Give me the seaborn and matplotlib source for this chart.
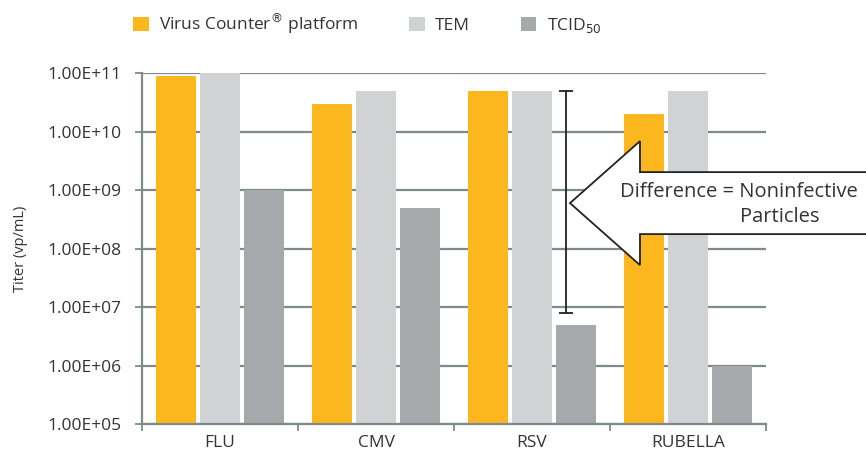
import seaborn as sns
import matplotlib.pyplot as plt
import matplotlib.ticker as mticker
from matplotlib.patches import Polygon
import pandas as pd

viruses = ['FLU', 'CMV', 'RSV', 'RUBELLA']
methods = ['Virus Counter$^{®}$ platform', 'TEM', 'TCID$_{50}$']
virus_counter = [9e10, 3e10, 5e10, 2e10]
tem = [1e11, 5e10, 5e10, 5e10]
tcid50 = [1e9, 5e8, 5e6, 1e6]
colors = ['#FBB71D', '#D1D2D4', '#A7A8AB']

# range of the "noninfective particles" bracket on RSV
diff_top, diff_bottom = 5e10, 8e6

rows = []
for vals, m in zip([virus_counter, tem, tcid50], methods):
    for v, val in zip(viruses, vals):
        rows.append({'Virus': v, 'Method': m, 'Titer': val})
df = pd.DataFrame(rows)

sns.set_style('white')
plt.rcParams['font.family'] = ['Open Sans', 'DejaVu Sans']
grid_c = '#7F8A8A'
text_c = '#333333'

fig = plt.figure(figsize=(8.66, 4.57), dpi=100)
ax = fig.add_axes([0.164, 0.072, 0.7205, 0.768])

sns.barplot(data=df, x='Virus', y='Titer', hue='Method', palette=colors,
            order=viruses, hue_order=methods, width=0.855, gap=0.1,
            ax=ax, legend=True, saturation=1, linewidth=0)
ax.set_yscale('log')

ax.set_ylim(1e5, 1e11)
ax.set_xlim(-0.5, len(viruses) - 0.5)
ax.yaxis.set_major_locator(mticker.LogLocator(base=10, numticks=10))
ax.yaxis.set_minor_locator(mticker.NullLocator())
ax.yaxis.set_major_formatter(mticker.FuncFormatter(lambda v, p: f'{v:.2E}'))
ax.grid(axis='y', color=grid_c, linewidth=1.6)
ax.set_axisbelow(True)

for s in ['top', 'right']:
    ax.spines[s].set_visible(False)
for s in ['left', 'bottom']:
    ax.spines[s].set_color(grid_c)
    ax.spines[s].set_linewidth(1.6)

ax.tick_params(axis='y', length=5, width=1.3, color=grid_c, labelsize=12.5,
               labelcolor=text_c, left=True, pad=10)
ax.tick_params(axis='x', which='major', length=0, labelsize=12.5, labelcolor=text_c, pad=8)
ax.set_xticks([i - 0.5 for i in range(len(viruses) + 1)], minor=True)
ax.tick_params(axis='x', which='minor', length=5, width=1.3, color=grid_c, bottom=True)

ax.set_xlabel('')
ax.set_ylabel('Titer (vp/mL)', fontsize=10.5, color=text_c, labelpad=14)

# legend at top
handles, labels = ax.get_legend_handles_labels()
ax.get_legend().remove()
fig.legend(handles, labels, loc='upper left', bbox_to_anchor=(0.136, 1.01), ncol=3,
           frameon=False, fontsize=12.5, handlelength=0.9, handleheight=0.9,
           handletextpad=0.6, columnspacing=2.9, labelcolor=text_c)

# bracket showing the difference on RSV
rsv = viruses.index('RSV')
ax.errorbar([rsv + 0.218], [diff_top], yerr=[[diff_top - diff_bottom], [0]],
            fmt='none', ecolor='#222222', elinewidth=1.3, capsize=5, capthick=1.3)

# big callout arrow (axes-fraction coordinates)
def px(x, y):
    return ((x - 142) / 624, (424 - y) / 351)

arrow_pts = [px(570, 203), px(640, 141), px(640, 172), px(900, 172),
             px(900, 234), px(640, 234), px(640, 265)]
ax.add_patch(Polygon(arrow_pts, closed=True, transform=ax.transAxes,
                     facecolor='white', edgecolor='#222222', lw=1.3, clip_on=False, zorder=5))
tx, ty = px(739, 192)
ax.text(tx, ty, 'Difference = Noninfective', transform=ax.transAxes, ha='center',
        va='center', fontsize=14.5, color=text_c, zorder=6, clip_on=False)
tx, ty = px(780, 217)
ax.text(tx, ty, 'Particles', transform=ax.transAxes, ha='center',
        va='center', fontsize=14.5, color=text_c, zorder=6, clip_on=False)

fig.savefig('out.png', dpi=100)
